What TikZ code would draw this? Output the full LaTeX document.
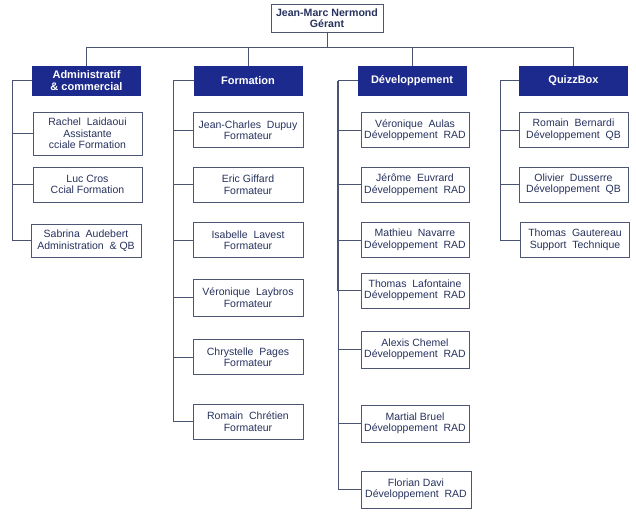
\documentclass[tikz,border=0pt]{standalone}
\usepackage{fontspec}
\setmainfont{Liberation Sans}
\usepackage{xcolor}
\usepackage{tikz}
\usetikzlibrary{calc}
\definecolor{navy}{HTML}{1C2A8E}
\definecolor{ink}{HTML}{27325E}
\definecolor{wire}{HTML}{4A5472}
\definecolor{frame}{HTML}{4D5673}
\tikzset{
  boss/.style={draw=frame, line width=0.9pt, fill=white, text=ink, font=\bfseries\fontsize{10.6}{11.5}\selectfont,
    minimum width=112pt, minimum height=28pt, inner sep=0pt, align=center},
  dept/.style={draw=navy, fill=navy, text=white, font=\bfseries\fontsize{11}{12}\selectfont,
    minimum width=108pt, minimum height=29pt, inner sep=0pt, align=center},
  staff/.style={draw=frame, line width=0.9pt, fill=white, text=ink, font=\fontsize{10.5}{11.5}\selectfont,
    minimum width=109pt, minimum height=35pt, inner sep=0pt, align=center},
  link/.style={draw=wire, line width=0.85pt},
}

\begin{document}
\begin{tikzpicture}[x=1pt, y=-1pt]
  \useasboundingbox (0,0) rectangle (636,522);

  % top
  \node[boss] (boss) at (327,18) {Jean-Marc Nermond\\Gérant};

  % departments
  \node[dept] (adm)   at (86.5,80.5)  {Administratif\\\&~commercial};
  \node[dept] (form)  at (248,80.5)   {Formation};
  \node[dept] (dev)   at (412,80.5)   {Développement};
  \node[dept] (quizz) at (573.5,80.5) {QuizzBox};

  \foreach \d in {adm,form,dev,quizz}
    \draw[link] (boss.south) -- ++(0,15) -| (\d.north);

  % administratif & commercial
  \node[staff, minimum height=43pt] (rachel) at (87.5,133.5) {Rachel~~Laidaoui\\Assistante\\cciale Formation};
  \node[staff] (luc)     at (87.5,184.5) {Luc Cros\\Ccial Formation};
  \node[staff, minimum width=110pt, minimum height=33pt] (sabrina) at (86,240.5) {Sabrina~~Audebert\\Administration~~\&~QB};

  \coordinate (admT) at (12,80.5);
  \draw[link] (adm.west) -- (admT) |- (sabrina.west);
  \foreach \c in {rachel,luc}
    \draw[link] (admT) |- (\c.west);

  % formation
  \node[staff, minimum width=110pt] (jc)       at (248,130)   {Jean-Charles~~Dupuy\\Formateur};
  \node[staff, minimum width=110pt] (eric)     at (248,184.5) {Eric Giffard\\Formateur};
  \node[staff, minimum width=110pt] (isabelle) at (248,240)   {Isabelle~~Lavest\\Formateur};
  \node[staff, minimum width=110pt, minimum height=37pt] (laybros) at (248,297.5) {Véronique~~Laybros\\Formateur};
  \node[staff, minimum width=110pt] (chrystelle) at (248,357)  {Chrystelle~~Pages\\Formateur};
  \node[staff, minimum width=110pt] (chretien)   at (248,421.5){Romain~~Chrétien\\Formateur};

  \coordinate (formT) at (173,80.5);
  \draw[link] (form.west) -- (formT) |- (chretien.west);
  \foreach \c in {jc,eric,isabelle,laybros,chrystelle}
    \draw[link] (formT) |- (\c.west);

  % developpement
  \node[staff, minimum width=108pt] (aulas)      at (415,130)   {Véronique~~Aulas\\Développement~~RAD};
  \node[staff, minimum width=108pt] (jerome)     at (415,184.5) {Jérôme~~Euvrard\\Développement~~RAD};
  \node[staff, minimum width=108pt] (mathieu)    at (415,240)   {Mathieu~~Navarre\\Développement~~RAD};
  \node[staff, minimum width=108pt] (lafontaine) at (415,290.5) {Thomas~~Lafontaine\\Développement~~RAD};
  \node[staff, minimum width=108pt, minimum height=37pt] (alexis)  at (415,349.5) {Alexis Chemel\\Développement~~RAD};
  \node[staff, minimum width=108pt, minimum height=37pt] (martial) at (415,423.5) {Martial Bruel\\Développement~~RAD};
  \node[staff, minimum width=110pt, minimum height=37pt] (florian) at (416,489.5) {Florian Davi\\Développement~~RAD};

  \coordinate (devT) at (338,80.5);
  \draw[link] (dev.west) -- (devT) |- (florian.west);
  \foreach \c in {aulas,jerome,mathieu,alexis,martial}
    \draw[link] (devT) |- (\c.west);
  \draw[link, line width=1.4pt] (devT) |- (lafontaine.west);

  % quizzbox
  \node[staff] (bernardi)  at (573.5,130)   {Romain~~Bernardi\\Développement~~QB};
  \node[staff] (olivier)   at (573.5,184.5) {Olivier~~Dusserre\\Développement~~QB};
  \node[staff] (gautereau) at (575,240)     {Thomas~~Gautereau\\Support~~Technique};

  \coordinate (quizzT) at (500,80.5);
  \draw[link] (quizz.west) -- (quizzT) |- (gautereau.west);
  \foreach \c in {bernardi,olivier}
    \draw[link] (quizzT) |- (\c.west);
\end{tikzpicture}
\end{document}
